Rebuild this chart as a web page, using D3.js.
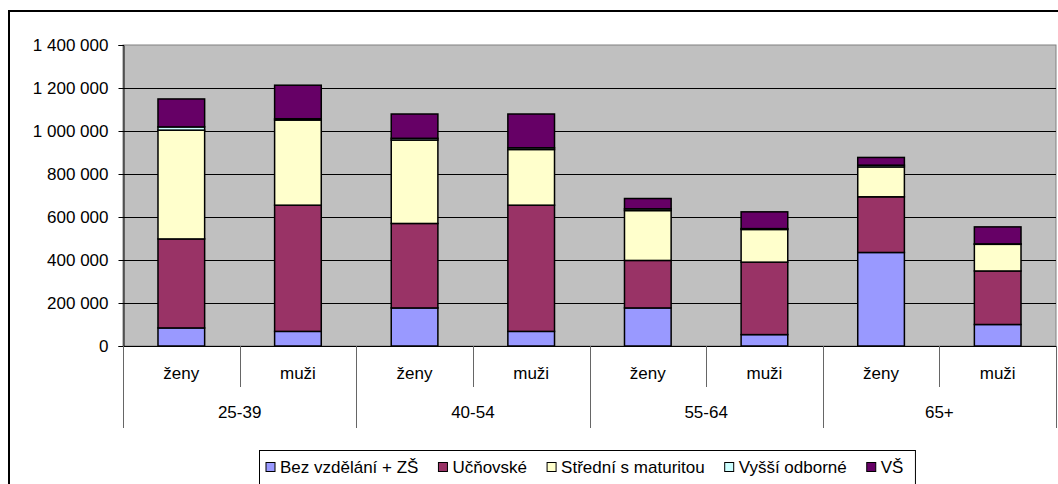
<!DOCTYPE html>
<html><head><meta charset="utf-8">
<script src="https://cdn.jsdelivr.net/npm/d3@7"></script>
<style>
html,body{margin:0;padding:0;background:#fff;}
svg text{font-family:"Liberation Sans",Arial,sans-serif;fill:#000;}
</style></head>
<body><svg id="c" width="1058" height="484"></svg>
<script>
const sexes = ["ženy","muži","ženy","muži","ženy","muži","ženy","muži"];
const groups = ["25-39","40-54","55-64","65+"];
const seriesNames = ["Bez vzdělání + ZŠ","Učňovské","Střední s maturitou","Vyšší odborné","VŠ"];
const seriesColors = ["#9999FF","#993366","#FFFFCC","#CCFFFF","#660066"];
const bezVzdelani = [84000, 68000, 177000, 68000, 177000, 53000, 435000, 100000];
const ucnovske    = [414000, 587000, 393000, 587000, 221000, 337000, 259000, 249000];
const stredni     = [506000, 396000, 388000, 259000, 232000, 152000, 139000, 124000];
const vyssiOdb    = [15000, 6000, 8000, 8000, 8000, 4000, 8000, 2000];
const vs          = [130000, 156000, 113000, 157000, 48000, 78000, 36000, 79000];
const yTicks = [0,200000,400000,600000,800000,1000000,1200000,1400000];

const seriesVals = [bezVzdelani, ucnovske, stredni, vyssiOdb, vs];
const rows = sexes.map((s,i)=>{
  const r = {id:i, sex:s};
  seriesNames.forEach((n,k)=>r[n]=seriesVals[k][i]);
  return r;
});

const svg = d3.select("#c");
const FS = 17;
const L=123, R=1056, T=45, B=346;

// outer chart border
svg.append("rect").attr("x",9).attr("y",11).attr("width",1200).attr("height",600)
  .attr("fill","#fff").attr("stroke","#000").attr("stroke-width",2);

const x = d3.scaleBand().domain(rows.map(d=>d.id)).range([L,R]).paddingInner(0).paddingOuter(0);
const y = d3.scaleLinear().domain([0,1400000]).range([B,T]);

// plot area
svg.append("rect").attr("x",L).attr("y",T).attr("width",R-L).attr("height",B-T)
  .attr("fill","#C0C0C0").attr("stroke","#808080").attr("stroke-width",1);

// gridlines
svg.append("g").selectAll("line").data(yTicks.filter(v=>v>0 && v<1400000)).join("line")
  .attr("x1",L).attr("x2",R).attr("y1",d=>Math.round(y(d))+0.5).attr("y2",d=>Math.round(y(d))+0.5)
  .attr("stroke","#000").attr("stroke-width",1);

// y axis
const fmt = v => d3.format(",")(v).replace(/,/g," ");
const yAxis = d3.axisLeft(y).tickValues(yTicks).tickFormat(fmt).tickSize(5).tickPadding(10);
const ga = svg.append("g").attr("transform",`translate(${L+0.5},0)`).call(yAxis);
ga.select(".domain").attr("stroke","#000");
ga.selectAll(".tick line").attr("stroke","#000");
ga.selectAll(".tick text").attr("font-size",FS).attr("font-family","Liberation Sans, Arial, sans-serif").attr("fill","#000");

// bars
const stack = d3.stack().keys(seriesNames);
const st = stack(rows);
const bw = x.bandwidth()*0.4;
svg.append("g").selectAll("g").data(st).join("g")
  .attr("fill",(d,i)=>seriesColors[i])
  .selectAll("rect").data(d=>d).join("rect")
  .attr("x",d=>x(d.data.id)+(x.bandwidth()-bw)/2)
  .attr("y",d=>y(d[1]))
  .attr("width",bw)
  .attr("height",d=>y(d[0])-y(d[1]))
  .attr("stroke","#000").attr("stroke-width",1.5);

// category axis
const cat = svg.append("g");
cat.append("line").attr("x1",L).attr("x2",R).attr("y1",B+0.5).attr("y2",B+0.5).attr("stroke","#000");
const bounds = d3.range(rows.length+1);
cat.selectAll("line.b").data(bounds).join("line").attr("class","b")
  .attr("x1",i=>Math.round(i<rows.length? x(i): R)+0.5)
  .attr("x2",i=>Math.round(i<rows.length? x(i): R)+0.5)
  .attr("y1",B).attr("y2",i=> i%2===0 ? 428 : 387)
  .attr("stroke","#666").attr("stroke-width",1);
cat.selectAll("text.s").data(rows).join("text").attr("class","s")
  .attr("x",d=>x(d.id)+x.bandwidth()/2).attr("y",373)
  .attr("text-anchor","middle").attr("dominant-baseline","central").attr("font-size",FS)
  .text(d=>d.sex);
cat.selectAll("text.g").data(groups).join("text").attr("class","g")
  .attr("x",(d,i)=>x(i*2)+x.bandwidth()).attr("y",412)
  .attr("text-anchor","middle").attr("dominant-baseline","central").attr("font-size",FS)
  .text(d=>d);

// legend
const lg = svg.append("g");
const lbox = lg.append("rect").attr("x",259.5).attr("y",450.5).attr("height",60)
  .attr("fill","#fff").attr("stroke","#000").attr("stroke-width",1);
let cx = 266;
const ly = 467;
const gap = 20;
seriesNames.forEach((n,i)=>{
  lg.append("rect").attr("x",cx).attr("y",ly-4.5).attr("width",9).attr("height",9)
    .attr("fill",seriesColors[i]).attr("stroke","#000").attr("stroke-width",1);
  const t = lg.append("text").attr("x",cx+14).attr("y",ly).attr("dominant-baseline","central")
    .attr("font-size",FS).text(n);
  cx = cx + 14 + t.node().getComputedTextLength() + gap;
});
lbox.attr("width", cx - gap + 12 - 259.5);
</script></body></html>
